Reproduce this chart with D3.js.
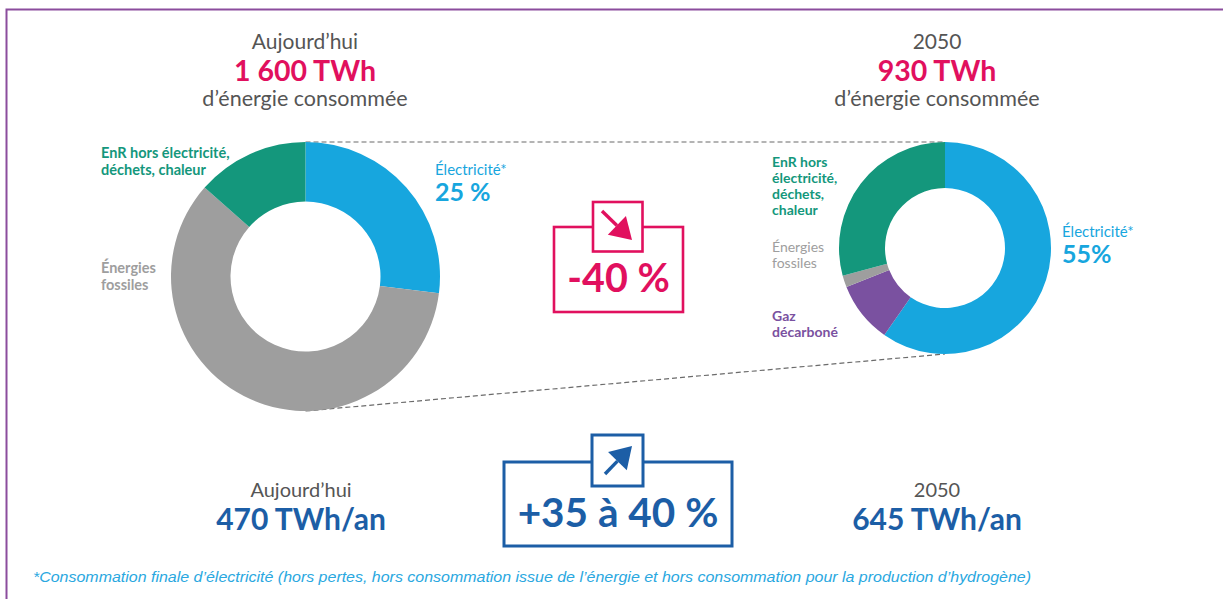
<!DOCTYPE html>
<html lang="fr">
<head>
<meta charset="utf-8">
<script src="https://cdn.jsdelivr.net/npm/d3@7"></script>
<style>
  html, body { margin: 0; padding: 0; background: #fff; }
  svg { display: block; font-family: Lato, "Open Sans", sans-serif; }
</style>
</head>
<body>
<svg id="chart" width="1223" height="599"></svg>
<script>
// ---- data ----
const periods = ["Aujourd\u2019hui", '2050'];
const energyTotals = ['1 600 TWh', '930 TWh'];
const energyCaption = 'd\u2019énergie consommée';

const sourcesToday = ['Électricité*', 'Énergies fossiles', 'EnR hors électricité, déchets, chaleur'];
const sharesToday = [27, 59.5, 13.5];

const sources2050 = ['Électricité*', 'Gaz décarboné', 'Énergies fossiles', 'EnR hors électricité, déchets, chaleur'];
const shares2050 = [59.7, 9.3, 1.8, 29.2];

const elecShareLabels = ['25 %', '55%'];
const elecTotals = ['470 TWh/an', '645 TWh/an'];
const changes = ['-40 %', '+35 à 40 %'];
const footnote = '*Consommation finale d\u2019électricité (hors pertes, hors consommation issue de l\u2019énergie et hors consommation pour la production d\u2019hydrogène)';

// ---- styling ----
const COLORS = {
  'Électricité*': '#17a6de',
  'Énergies fossiles': '#9e9e9e',
  'EnR hors électricité, déchets, chaleur': '#14977c',
  'Gaz décarboné': '#7a51a0',
};
const PINK = '#e1105e';
const BLUE = '#1c5ea6';
const GREY_TXT = '#555';

const svg = d3.select('#chart');

// frame (top + left rule)
svg.append('path')
  .attr('d', 'M6.5,599 V9.5 H1223')
  .attr('fill', 'none')
  .attr('stroke', '#8b4d9d')
  .attr('stroke-width', 2);

// ---- donuts ----
const donuts = [
  { cx: 305.5, cy: 276.5, r: 134.5, ri: 75, names: sourcesToday, values: sharesToday },
  { cx: 945, cy: 248, r: 106, ri: 60, names: sources2050, values: shares2050 },
];

// dashed zoom lines between the two rings
const [dl, dr] = donuts;
const dash = svg.append('g')
  .attr('stroke', '#6b6b6b')
  .attr('stroke-width', 1.2)
  .attr('stroke-dasharray', '5,3');
dash.append('line')
  .attr('x1', dl.cx).attr('y1', dl.cy - dl.r)
  .attr('x2', dr.cx).attr('y2', dr.cy - dr.r);
dash.append('line')
  .attr('x1', dl.cx).attr('y1', dl.cy + dl.r)
  .attr('x2', dr.cx).attr('y2', dr.cy + dr.r);

const pie = d3.pie().sort(null).value((d) => d.v);

donuts.forEach((dn) => {
  const arc = d3.arc().innerRadius(dn.ri).outerRadius(dn.r);
  const rows = dn.names.map((n, i) => ({ n, v: dn.values[i] }));
  svg.append('g')
    .attr('transform', `translate(${dn.cx},${dn.cy})`)
    .selectAll('path')
    .data(pie(rows))
    .join('path')
    .attr('d', arc)
    .attr('fill', (d) => COLORS[d.data.n]);
});

// ---- titles ----
const titleX = [305, 937];
titleX.forEach((x, i) => {
  const g = svg.append('g').attr('text-anchor', 'middle');
  g.append('text').attr('x', x).attr('y', 49)
    .attr('font-size', 21).attr('fill', GREY_TXT).text(periods[i]);
  g.append('text').attr('x', x).attr('y', 80.5)
    .attr('font-size', 28.5).attr('font-weight', 700).attr('fill', PINK).text(energyTotals[i]);
  g.append('text').attr('x', x).attr('y', 106)
    .attr('font-size', 21.5).attr('fill', GREY_TXT).text(energyCaption);
});

// ---- slice labels ----
function label(x, y, lines, color, weight, size, lh) {
  const t = svg.append('text')
    .attr('x', x).attr('y', y)
    .attr('fill', color)
    .attr('font-weight', weight)
    .attr('font-size', size);
  lines.forEach((s, i) => {
    t.append('tspan').attr('x', x).attr('dy', i ? lh : 0).text(s);
  });
}

// left donut
label(101, 158, ['EnR hors électricité,', 'déchets, chaleur'], COLORS[sourcesToday[2]], 700, 14.5, 17);
label(101, 273, ['Énergies', 'fossiles'], COLORS[sourcesToday[1]], 700, 14.5, 16.5);
label(435, 175, [sourcesToday[0]], COLORS[sourcesToday[0]], 400, 15, 0);
label(435, 201, [elecShareLabels[0]], COLORS[sourcesToday[0]], 700, 25, 0);

// right donut
label(772, 167, ['EnR hors', 'électricité,', 'déchets,', 'chaleur'], COLORS[sources2050[3]], 700, 14, 16);
label(772, 252, ['Énergies', 'fossiles'], COLORS[sources2050[2]], 400, 14, 16);
label(772, 321, ['Gaz', 'décarboné'], COLORS[sources2050[1]], 700, 14, 16);
label(1062, 237, [sources2050[0]], COLORS[sources2050[0]], 400, 15, 0);
label(1062, 263, [elecShareLabels[1]], COLORS[sources2050[0]], 700, 25, 0);

// ---- change boxes ----
function changeBox(o) {
  const g = svg.append('g');
  g.append('rect')
    .attr('x', o.x).attr('y', o.y).attr('width', o.w).attr('height', o.h)
    .attr('fill', '#fff').attr('stroke', o.color).attr('stroke-width', o.sw);
  g.append('rect')
    .attr('x', o.sx).attr('y', o.sy).attr('width', o.ss).attr('height', o.ss)
    .attr('fill', '#fff').attr('stroke', o.color).attr('stroke-width', o.sw);
  // arrow
  const [x1, y1, x2, y2] = o.arrow;
  const ang = Math.atan2(y2 - y1, x2 - x1);
  const hl = o.head, hw = o.head * 0.62;
  const bx = x2 - hl * Math.cos(ang), by = y2 - hl * Math.sin(ang);
  g.append('line')
    .attr('x1', x1).attr('y1', y1).attr('x2', bx).attr('y2', by)
    .attr('stroke', o.color).attr('stroke-width', 3.4);
  const px = -Math.sin(ang), py = Math.cos(ang);
  g.append('path')
    .attr('d', `M${x2},${y2} L${bx + px * hw},${by + py * hw} L${bx - px * hw},${by - py * hw} Z`)
    .attr('fill', o.color);
  g.append('text')
    .attr('x', o.x + o.w / 2).attr('y', o.ty)
    .attr('text-anchor', 'middle')
    .attr('font-size', o.fs).attr('font-weight', 700)
    .attr('fill', o.color)
    .text(o.text);
}

changeBox({
  x: 554, y: 227, w: 129, h: 85, sx: 593, sy: 202, ss: 49.5, sw: 2.6,
  arrow: [602, 211, 632, 240], head: 21,
  ty: 292, fs: 39.5, color: PINK, text: changes[0],
});
changeBox({
  x: 504, y: 462, w: 228, h: 84, sx: 592, sy: 435, ss: 51, sw: 3,
  arrow: [605, 474, 632, 446], head: 21,
  ty: 527, fs: 40.5, color: BLUE, text: changes[1],
});

// ---- electricity totals ----
const bottomX = [301, 937];
bottomX.forEach((x, i) => {
  const g = svg.append('g').attr('text-anchor', 'middle');
  g.append('text').attr('x', x).attr('y', 497)
    .attr('font-size', 20).attr('fill', GREY_TXT).text(periods[i]);
  g.append('text').attr('x', x).attr('y', 530)
    .attr('font-size', 30).attr('font-weight', 700).attr('fill', BLUE).text(elecTotals[i]);
});

// ---- footnote ----
svg.append('text')
  .attr('x', 33).attr('y', 582)
  .attr('font-family', '"Liberation Sans Narrow", "Liberation Sans", Arial, sans-serif')
  .attr('font-style', 'italic')
  .attr('font-size', 14.5)
  .attr('fill', '#2aa8df')
  .attr('textLength', 998)
  .attr('lengthAdjust', 'spacingAndGlyphs')
  .text(footnote);
</script>
</body>
</html>
